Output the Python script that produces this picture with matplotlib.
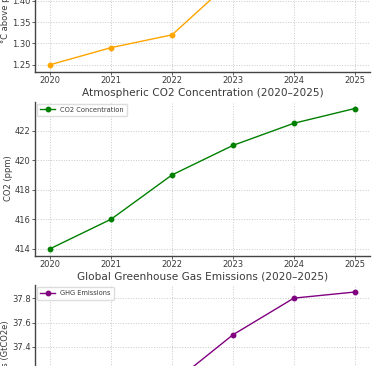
import matplotlib
matplotlib.use("Agg")
import matplotlib.pyplot as plt

years = [2020, 2021, 2022, 2023, 2024, 2025]
temp_anomaly = [1.25, 1.29, 1.32, 1.45, 1.58, 1.55]
co2_ppm = [414, 416, 419, 421, 422.5, 423.5]
ghg_emissions = [36.7, 37.0, 37.1, 37.5, 37.8, 37.85]

TXT = "#3a3a3a"
W, H = 375, 366

plt.rcParams.update({
    "font.family": "DejaVu Sans",
    "axes.edgecolor": "#444444",
    "xtick.color": "#444444",
    "ytick.color": "#444444",
    "xtick.labelcolor": TXT,
    "ytick.labelcolor": TXT,
    "axes.labelcolor": TXT,
    "text.color": TXT,
})

fig = plt.figure(figsize=(W / 100, H / 100), dpi=100)


def px_axes(left, top, right, bottom):
    # positions given in pixels from the top-left corner
    return fig.add_axes([left / W, (H - bottom) / H, (right - left) / W, (bottom - top) / H])


def style(ax, title, ylabel, fmt):
    ax.set_title(title, fontsize=7.6, color=TXT, pad=4)
    ax.set_ylabel(ylabel, fontsize=6.0, labelpad=1.5)
    ax.set_xticks(years)
    ax.tick_params(labelsize=6.0, length=2, width=0.6, pad=1.2)
    ax.yaxis.set_major_formatter(plt.FormatStrFormatter(fmt))
    ax.grid(True, ls=":", lw=0.7, color="#c8c8c8")
    ax.set_axisbelow(True)
    for s in ["top", "right"]:
        ax.spines[s].set_visible(False)
    for s in ["left", "bottom"]:
        ax.spines[s].set_linewidth(1.0)
    ax.legend(loc="upper left", fontsize=4.8, frameon=True, edgecolor="#d5d5d5",
              fancybox=True, borderpad=0.5, handlelength=2.2, borderaxespad=0.3)


ax1 = px_axes(35, -83, 370, 71.7)
ax1.plot(years, temp_anomaly, marker="o", ms=3.2, lw=1.0, color="orange", label="Temperature Anomaly")
style(ax1, "Global Temperature Anomaly (2020–2025)", "°C above pre-industrial", "%.2f")
ax1.set_yticks([1.25, 1.30, 1.35, 1.40, 1.45, 1.50, 1.55])

ax2 = px_axes(35, 101.5, 370, 255.7)
ax2.plot(years, co2_ppm, marker="o", ms=3.2, lw=1.0, color="green", label="CO2 Concentration")
style(ax2, "Atmospheric CO2 Concentration (2020–2025)", "CO2 (ppm)", "%d")
ax2.set_yticks([414, 416, 418, 420, 422])

ax3 = px_axes(35, 285, 370, 439.5)
ax3.plot(years, ghg_emissions, marker="o", ms=3.2, lw=1.0, color="purple", label="GHG Emissions")
style(ax3, "Global Greenhouse Gas Emissions (2020–2025)", "Emissions (GtCO2e)", "%.1f")
ax3.set_yticks([36.8, 37.0, 37.2, 37.4, 37.6, 37.8])

fig.savefig("out.png", dpi=100)
